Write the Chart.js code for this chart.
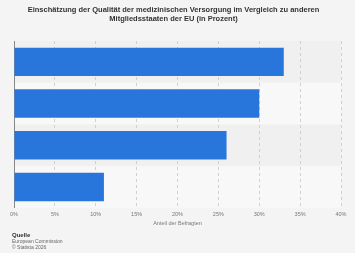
<!DOCTYPE html>
<html lang="de">
<head>
  <meta charset="UTF-8" />
  <title>Qualität der medizinischen Versorgung</title>
  <script src="https://cdn.jsdelivr.net/npm/chart.js"></script>
  <style>
    html, body {
      margin: 0;
      padding: 0;
      background: #f4f4f4;
      font-family: "Liberation Sans", Arial, sans-serif;
    }
    .wrap {
      position: relative;
      width: 355px;
      height: 253px;
    }
    .source {
      position: absolute;
      left: 12px;
      top: 232px;
      font-size: 5px;
      line-height: 6px;
      color: #666;
    }
    .source b {
      color: #333;
      font-size: 6px;
    }
  </style>
</head>
<body>
  <div class="wrap">
    <canvas id="chart" width="355" height="253"></canvas>
    <div class="source"><b>Quelle</b><br>European Commission<br>© Statista 2026</div>
  </div>

  <script>
    const categories = ["Besser", "Gleich", "Schlechter", "Weiß nicht"];
    const values = [33, 30, 26, 11];
    const xTicks = [0, 5, 10, 15, 20, 25, 30, 35, 40];

    // alternating row backgrounds behind the bars
    const stripes = {
      id: "stripes",
      beforeDraw(chart) {
        const { ctx, chartArea, scales } = chart;
        const y = scales.y;
        ctx.save();
        categories.forEach((c, i) => {
          const top = i === 0 ? chartArea.top : (y.getPixelForValue(i - 1) + y.getPixelForValue(i)) / 2;
          const bot = i === categories.length - 1 ? chartArea.bottom : (y.getPixelForValue(i) + y.getPixelForValue(i + 1)) / 2;
          ctx.fillStyle = i % 2 === 0 ? "#f0f0f0" : "#f8f8f8";
          ctx.fillRect(chartArea.left, top, chartArea.right - chartArea.left, bot - top);
        });
        ctx.restore();
      }
    };

    new Chart(document.getElementById("chart"), {
      type: "bar",
      data: {
        labels: categories,
        datasets: [{
          data: values,
          backgroundColor: "#2876dc",
          barPercentage: 0.68,
          categoryPercentage: 1
        }]
      },
      options: {
        indexAxis: "y",
        responsive: false,
        animation: false,
        layout: { padding: { left: 6, right: 14, top: 0, bottom: 26 } },
        plugins: {
          legend: { display: false },
          tooltip: { enabled: false },
          title: {
            display: true,
            text: ["Einschätzung der Qualität der medizinischen Versorgung im Vergleich zu anderen",
                   "Mitgliedsstaaten der EU (in Prozent)"],
            color: "#333",
            font: { size: 7.5, weight: "bold", family: "Liberation Sans" },
            padding: { top: 5, bottom: 18 },
            lineHeight: 1.5
          }
        },
        scales: {
          x: {
            min: 0,
            max: 40,
            afterBuildTicks(axis) { axis.ticks = xTicks.map(v => ({ value: v })); },
            grid: {
              color: "#d0d0d0",
              drawTicks: false
            },
            border: { display: false, dash: [3, 3] },
            ticks: {
              color: "#777",
              font: { size: 5.5, family: "Liberation Sans" },
              padding: 3,
              callback: v => v + "%"
            },
            title: {
              display: true,
              text: "Anteil der Befragten",
              color: "#777",
              font: { size: 5.5, family: "Liberation Sans" },
              padding: { top: 0, bottom: 0 }
            }
          },
          y: {
            grid: { display: false },
            border: { display: true, color: "#888", width: 1 },
            ticks: { display: false, padding: 0 }
          }
        }
      },
      plugins: [stripes]
    });
  </script>
</body>
</html>
